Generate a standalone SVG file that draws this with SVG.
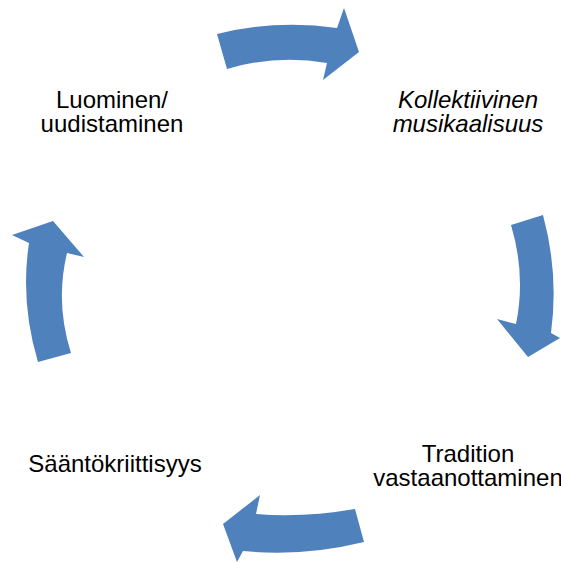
<svg xmlns="http://www.w3.org/2000/svg" width="561" height="562" viewBox="0 0 561 562">
<style>
.arrow{fill:#4F81BD;stroke:none}
.lbl{font-family:"Liberation Sans",Arial,sans-serif;font-size:24px;fill:#000;text-anchor:middle}
.it{font-style:italic}
</style>
<rect width="561" height="562" fill="#fff"/>
<g id="connectors">
<path class="arrow" d="M217,34 Q277,19 337,28 L344,8 L359,52 L323,80 L327,63 Q277,54 227,69 Z"/>
<path class="arrow" d="M543,215 Q559,274 551,333 L560,338 L528,357 L497,319 L516,324 Q526,275 511,225 Z"/>
<path class="arrow" d="M364,542 Q303,557 243,551 L237,562 L223,524 L260,495 L256,514 Q303,518 355,509 Z"/>
<path class="arrow" d="M38,362 Q20,302 29,243 L12,235 L53,221 L84,257 L67,253 Q55,303 71,353 Z"/>
</g>
<g id="node-luominen">
<text class="lbl" x="112" y="107.7">Luominen/</text>
<text class="lbl" x="112" y="131.7">uudistaminen</text>
</g>
<g id="node-kollektiivinen">
<text class="lbl it" x="468" y="107.7">Kollektiivinen</text>
<text class="lbl it" x="468" y="131.5">musikaalisuus</text>
</g>
<g id="node-tradition">
<text class="lbl" x="468" y="461.7">Tradition</text>
<text class="lbl" x="468" y="485.7">vastaanottaminen</text>
</g>
<g id="node-saanto">
<text class="lbl" x="115" y="471.7">Sääntökriittisyys</text>
</g>
</svg>
